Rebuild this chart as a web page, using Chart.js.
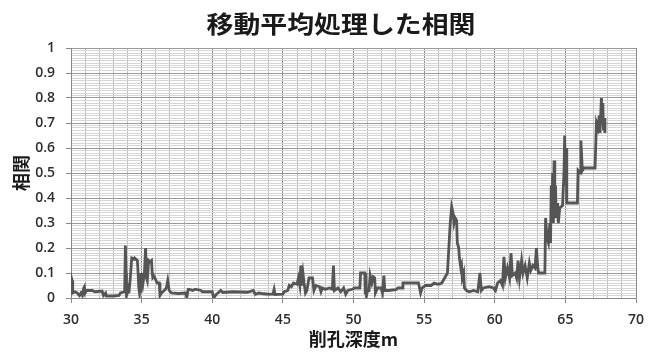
<!DOCTYPE html>
<html>
<head>
<meta charset="utf-8">
<script src="https://cdn.jsdelivr.net/npm/chart.js@4/dist/chart.umd.min.js"></script>
<style>
  html, body { margin: 0; padding: 0; background: #ffffff; }
  #wrap { width: 657px; height: 352px; }
</style>
</head>
<body>
<div id="wrap"><canvas id="c" width="657" height="352"></canvas></div>
<script>
// Moving-average correlation versus drilling depth
const chartTitle = '移動平均処理した相関';
const xAxisTitle = '削孔深度m';
const yAxisTitle = '相関';

// drilling depth (m)
const depth = [
  30.00, 30.03, 30.08, 30.12, 30.30, 30.45, 30.60, 30.70, 30.80, 30.90,
  30.95, 31.00, 31.10, 31.50, 31.70, 32.20, 32.30, 32.45, 32.50, 33.00,
  33.40, 33.50, 33.80, 33.85, 33.90, 33.93, 34.00, 34.05, 34.10, 34.20,
  34.30, 34.45, 34.50, 34.70, 34.75, 34.80, 34.85, 34.90, 34.95, 35.00,
  35.10, 35.20, 35.28, 35.35, 35.40, 35.50, 35.60, 35.70, 35.75, 35.80,
  35.90, 36.10, 36.25, 36.30, 36.40, 36.60, 36.75, 36.85, 36.95, 37.10,
  37.60, 38.10, 38.20, 38.30, 38.50, 38.60, 38.80, 39.20, 39.30, 40.00,
  40.10, 40.30, 40.40, 40.60, 40.75, 41.50, 42.50, 42.90, 43.05, 43.30,
  43.50, 44.00, 44.30, 44.38, 44.45, 45.00, 45.10, 45.35, 45.45, 45.60,
  45.75, 46.00, 46.10, 46.20, 46.27, 46.32, 46.42, 46.50, 46.60, 46.70,
  46.85, 47.10, 47.20, 47.35, 47.60, 47.70, 47.80, 48.00, 48.30, 48.50,
  48.58, 48.65, 48.90, 49.10, 49.30, 49.45, 49.60, 49.90, 50.10, 50.45,
  50.50, 50.80, 50.83, 50.87, 50.92, 51.00, 51.10, 51.18, 51.30, 51.40,
  51.50, 51.55, 51.70, 51.95, 52.05, 52.15, 52.22, 52.50, 53.00, 53.15,
  53.45, 53.50, 54.60, 54.75, 54.85, 55.10, 55.50, 55.70, 56.00, 56.25,
  56.40, 56.55, 56.65, 56.75, 56.85, 56.95, 57.05, 57.12, 57.20, 57.30,
  57.35, 57.45, 57.50, 57.60, 57.65, 57.70, 57.80, 57.85, 58.00, 58.20,
  58.50, 58.80, 58.95, 59.05, 59.20, 59.60, 59.90, 60.05, 60.20, 60.40,
  60.55, 60.65, 60.75, 60.90, 61.05, 61.15, 61.25, 61.45, 61.55, 61.65,
  61.75, 61.90, 62.00, 62.15, 62.30, 62.45, 62.55, 62.70, 62.85, 62.95,
  63.05, 63.10, 63.55, 63.60, 63.70, 63.80, 63.90, 63.95, 64.00, 64.05,
  64.10, 64.15, 64.20, 64.25, 64.30, 64.35, 64.45, 64.50, 64.60, 64.80,
  64.90, 64.95, 65.00, 65.05, 65.10, 65.85, 65.90, 66.05, 66.10, 66.20,
  66.30, 67.10, 67.20, 67.30, 67.40, 67.45, 67.55, 67.60, 67.65, 67.70,
  67.75, 67.80
];

// correlation after moving average
const correlation = [
  0.020, 0.080, 0.070, 0.020, 0.025, 0.020, 0.010, 0.020, 0.010, 0.040,
  0.045, 0.020, 0.030, 0.030, 0.025, 0.028, 0.010, 0.020, 0.008, 0.008,
  0.010, 0.020, 0.025, 0.210, 0.100, 0.010, 0.020, 0.060, 0.020, 0.080,
  0.160, 0.155, 0.160, 0.150, 0.100, 0.040, 0.020, 0.050, 0.020, 0.100,
  0.060, 0.100, 0.200, 0.080, 0.070, 0.150, 0.145, 0.150, 0.100, 0.080,
  0.085, 0.060, 0.060, 0.010, 0.020, 0.030, 0.040, 0.070, 0.030, 0.020,
  0.018, 0.020, 0.003, 0.035, 0.033, 0.030, 0.035, 0.030, 0.025, 0.025,
  0.000, 0.015, 0.020, 0.030, 0.022, 0.025, 0.023, 0.030, 0.015, 0.020,
  0.018, 0.015, 0.016, 0.035, 0.014, 0.015, 0.025, 0.030, 0.050, 0.045,
  0.060, 0.055, 0.080, 0.050, 0.130, 0.050, 0.100, 0.060, 0.020, 0.030,
  0.080, 0.080, 0.030, 0.050, 0.045, 0.025, 0.040, 0.035, 0.040, 0.035,
  0.130, 0.030, 0.040, 0.025, 0.040, 0.015, 0.030, 0.035, 0.040, 0.040,
  0.100, 0.100, 0.020, 0.100, 0.010, 0.030, 0.030, 0.090, 0.060, 0.085,
  0.080, 0.020, 0.040, 0.040, 0.020, 0.090, 0.030, 0.030, 0.033, 0.040,
  0.040, 0.060, 0.060, 0.020, 0.040, 0.050, 0.050, 0.060, 0.055, 0.060,
  0.075, 0.090, 0.100, 0.200, 0.300, 0.365, 0.340, 0.300, 0.320, 0.310,
  0.220, 0.200, 0.160, 0.120, 0.130, 0.080, 0.100, 0.040, 0.030, 0.025,
  0.030, 0.025, 0.100, 0.030, 0.040, 0.045, 0.040, 0.030, 0.060, 0.070,
  0.050, 0.165, 0.080, 0.120, 0.080, 0.180, 0.090, 0.100, 0.080, 0.150,
  0.080, 0.150, 0.100, 0.130, 0.080, 0.140, 0.110, 0.130, 0.120, 0.200,
  0.120, 0.100, 0.100, 0.320, 0.240, 0.220, 0.300, 0.220, 0.450, 0.350,
  0.500, 0.300, 0.550, 0.350, 0.450, 0.320, 0.380, 0.300, 0.360, 0.370,
  0.500, 0.650, 0.450, 0.600, 0.380, 0.380, 0.510, 0.500, 0.630, 0.510,
  0.520, 0.520, 0.700, 0.680, 0.730, 0.660, 0.800, 0.700, 0.780, 0.670,
  0.720, 0.660
];

// axis ranges and label spacing
const xMin = 30, xMax = 70, xMinorStep = 1, xMajorStep = 5;
const yMin = 0, yMax = 1, yMinorStep = 0.01, yMajorStep = 0.1;

const points = depth.map((d, i) => ({ x: d, y: correlation[i] }));

const isMultiple = (v, step) => {
  const r = v / step;
  return Math.abs(r - Math.round(r)) < 1e-6;
};

// heading drawn with a slight horizontal stretch
const headingPlugin = {
  id: 'heading',
  afterDraw(chart) {
    const ctx = chart.ctx;
    ctx.save();
    ctx.font = 'bold 24px "Noto Sans CJK JP", sans-serif';
    ctx.fillStyle = '#1a1a1a';
    ctx.textAlign = 'center';
    ctx.textBaseline = 'middle';
    ctx.translate(341, 24);
    ctx.scale(1.12, 1);
    ctx.fillText(chartTitle, 0, 0);
    ctx.restore();
  }
};

const tickFont = { family: '"Open Sans", "DejaVu Sans", sans-serif', size: 14, weight: '600' };
const titleFont = { family: '"Noto Sans CJK JP", sans-serif', size: 18, weight: 'bold' };

new Chart(document.getElementById('c'), {
  type: 'line',
  data: {
    datasets: [{
      data: points,
      borderColor: '#555555',
      borderWidth: 2.8,
      pointRadius: 0,
      tension: 0,
      fill: false
    }]
  },
  options: {
    responsive: false,
    animation: false,
    devicePixelRatio: 1,
    layout: { padding: { top: 48, right: 21, left: 0, bottom: 0 } },
    plugins: {
      legend: { display: false },
      title: { display: false },
      tooltip: { enabled: false }
    },
    scales: {
      x: {
        type: 'linear',
        min: xMin,
        max: xMax,
        afterFit(scale) { scale.height = 54; },
        ticks: {
          stepSize: xMinorStep,
          autoSkip: false,
          maxRotation: 0,
          padding: 9,
          color: '#2e2e2e',
          font: tickFont,
          callback: (v) => isMultiple(v, xMajorStep) ? String(v) : ''
        },
        grid: {
          color: (c) => isMultiple(c.tick.value, xMajorStep) ? '#8a8a8a' : '#bdbdbd',
          tickColor: (c) => isMultiple(c.tick.value, xMajorStep) ? '#8a8a8a' : 'rgba(0,0,0,0)',
          tickLength: 5,
          lineWidth: 1
        },
        border: { color: '#8a8a8a' },
        title: {
          display: true,
          text: xAxisTitle,
          color: '#1a1a1a',
          font: titleFont,
          padding: { top: 0, bottom: 2 }
        }
      },
      y: {
        type: 'linear',
        min: yMin,
        max: yMax,
        afterFit(scale) { scale.width = 71; },
        ticks: {
          stepSize: yMinorStep,
          autoSkip: false,
          padding: 11,
          color: '#2e2e2e',
          font: tickFont,
          callback: (v) => isMultiple(v, yMajorStep) ? String(Math.round(v * 10) / 10) : ''
        },
        grid: {
          color: (c) => isMultiple(c.tick.value, yMajorStep) ? '#9a9a9a' : '#d6d6d6',
          tickColor: (c) => isMultiple(c.tick.value, yMajorStep) ? '#8a8a8a' : 'rgba(0,0,0,0)',
          tickLength: 5,
          lineWidth: 1
        },
        border: { color: '#8a8a8a' },
        title: {
          display: true,
          text: yAxisTitle,
          color: '#1a1a1a',
          font: titleFont,
          padding: { top: 10, bottom: 0 }
        }
      }
    }
  },
  plugins: [headingPlugin]
});
</script>
</body>
</html>
